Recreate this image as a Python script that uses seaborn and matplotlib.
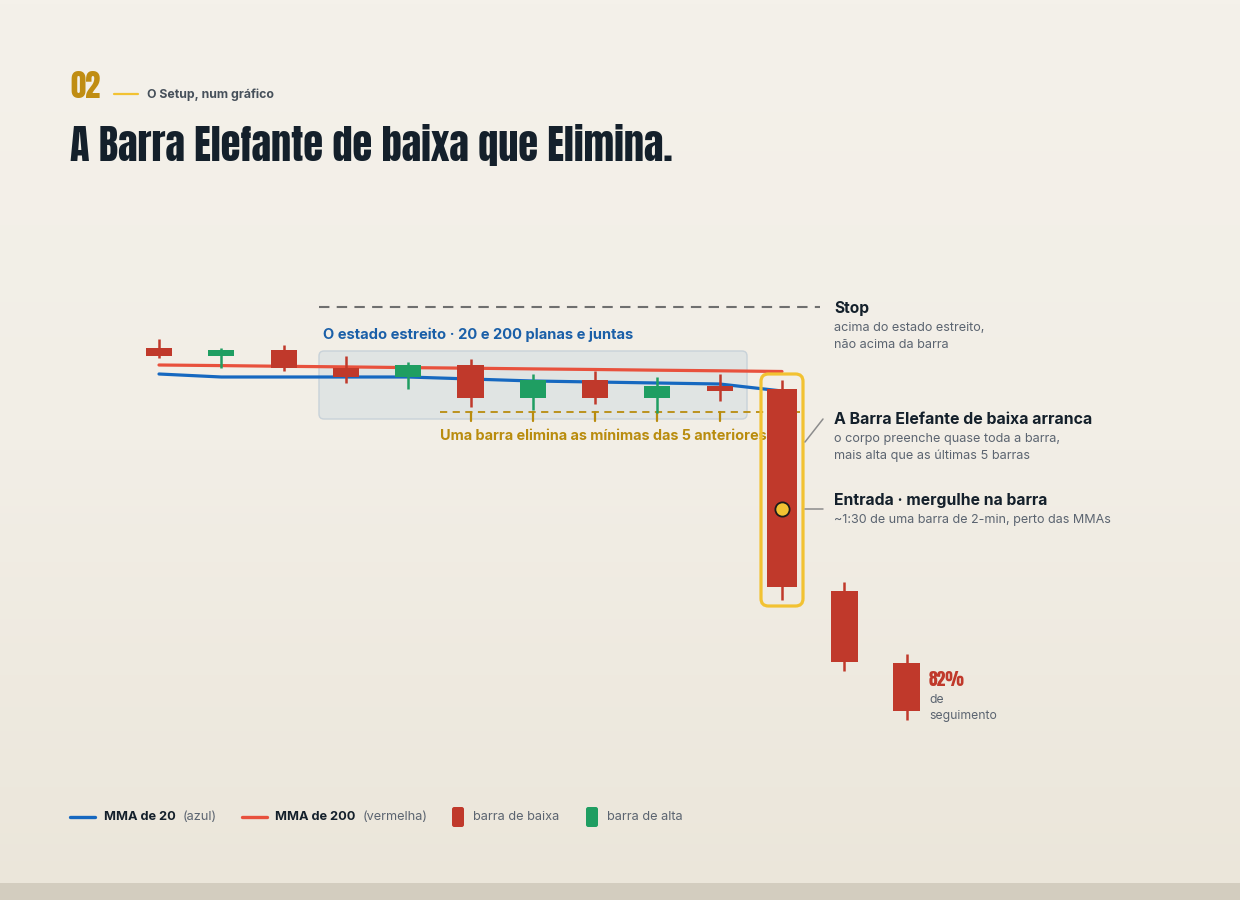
import numpy as np
import pandas as pd
import matplotlib
matplotlib.use("Agg")
import matplotlib.pyplot as plt
from matplotlib.patches import FancyBboxPatch, Rectangle
import seaborn as sns

# ── data: the candles (price units) ──────────────────────────
idx = list(range(13))
opens  = [145.2, 144.4, 145.0, 143.2, 142.3, 143.5, 140.2, 142.0, 140.2, 141.4, 141.1, 120.9, 113.7]
closes = [144.4, 145.0, 143.2, 142.3, 143.5, 140.2, 142.0, 140.2, 141.4, 140.9, 121.3, 113.8, 108.9]
highs  = [146.1, 145.2, 145.5, 144.4, 143.8, 144.1, 142.6, 142.9, 142.3, 142.6, 142.0, 121.8, 114.6]
lows   = [144.2, 143.2, 142.9, 141.7, 141.1, 139.3, 139.0, 139.6, 138.7, 139.9, 120.0, 112.9, 108.0]

mma_idx = list(range(11))
mma20  = [142.6, 142.3, 142.3, 142.3, 142.3, 142.1, 141.9, 141.8, 141.7, 141.6, 140.9]
mma200 = [143.5, 143.44, 143.37, 143.31, 143.24, 143.18, 143.11, 143.05, 142.98, 142.92, 142.85]

RED = "#c0392b"
GREEN = "#1f9e62"
BLUE = "#1668c0"
ORANGE = "#e8513d"
GOLD = "#b98c0e"
YELLOW = "#f2c232"
DARK = "#14202b"
GRAY = "#5b6470"

W, H = 1240, 900
sns.set_theme(style="white")
BODY = ["Inter", "DejaVu Sans"]
COND = ["Anton", "DejaVu Sans"]
plt.rcParams["font.family"] = BODY

fig = plt.figure(figsize=(W / 100, H / 100), dpi=100)
fig.patch.set_facecolor("#f3f0e9")
r = fig.canvas.get_renderer()


def fit_width(t, target):
    # scale a text so its rendered width matches the reference
    w = t.get_window_extent(r).width
    t.set_fontsize(t.get_fontsize() * target / w)


# background gradient + bottom band
bg = fig.add_axes([0, 0, 1, 1], zorder=-10)
grad = np.linspace(0, 1, 256).reshape(-1, 1)
cmap = matplotlib.colors.LinearSegmentedColormap.from_list("bg", ["#f4f1ea", "#f2eee6", "#ebe6da"])
bg.imshow(grad, aspect="auto", cmap=cmap, extent=[0, 1, 0, 1], origin="upper")
bg.add_patch(Rectangle((0, 0), 1, 17 / H, color="#d3cdbf", lw=0))
bg.set_axis_off()

# chart axes mapped to pixels: x -> candle index, y -> price
ax = fig.add_axes([0, 0, 1, 1])
ax.set_facecolor("none")
X0, DX = 159, 62.3
ax.set_xlim(-X0 / DX, (W - X0) / DX)
ax.set_ylim(180 - H / 10, 180)
ax.set_axis_off()


def px(x):
    return (x - X0) / DX


def py(y):
    return 180 - y / 10


ASPECT = DX / 10  # keep rounded corners round in data coords

# narrow-state box
ax.add_patch(FancyBboxPatch((px(319), py(419)), px(747) - px(319), py(351) - py(419),
                            boxstyle="round,pad=0,rounding_size=0.08", mutation_aspect=ASPECT,
                            facecolor="#e0e4e3", edgecolor="#c8d2d9", lw=1.0, zorder=1))
t = ax.text(px(323), py(335), "O estado estreito · 20 e 200 planas e juntas", color="#1a5fa8",
            fontsize=10.5, fontweight="bold", va="center", ha="left", zorder=5)
fit_width(t, 311)

# stop line
ax.plot([px(319), px(820)], [py(307), py(307)], color="#6f6f6f", lw=1.5,
        dashes=(5, 3.5), zorder=2)

# gold line across the lows of the 5 previous bars
ax.plot([px(440), px(800)], [py(412), py(412)], color=GOLD, lw=1.3, dashes=(4, 3), zorder=2)
for i in range(5, 10):
    ax.plot([i, i], [py(412), py(421)], color=GOLD, lw=1.6, zorder=2)
t = ax.text(px(440), py(436), "Uma barra elimina as mínimas das 5 anteriores", color=GOLD,
            fontsize=10.5, fontweight="bold", va="center", ha="left", zorder=5)
fit_width(t, 328)

# moving averages
df_mma = pd.DataFrame({"i": mma_idx, "MMA20": mma20, "MMA200": mma200})
sns.lineplot(data=df_mma, x="i", y="MMA200", color=ORANGE, lw=2.3, ax=ax, zorder=3)
sns.lineplot(data=df_mma, x="i", y="MMA20", color=BLUE, lw=2.3, ax=ax, zorder=3)
ax.set_axis_off()

# candles
cdf = pd.DataFrame({"i": idx, "o": opens, "c": closes, "h": highs, "l": lows})
cdf["col"] = np.where(cdf["c"] >= cdf["o"], GREEN, RED)
cdf["w"] = [0.42] * 10 + [0.48, 0.43, 0.43]
ax.vlines(cdf["i"], cdf["l"], cdf["h"], colors=cdf["col"], lw=1.8, zorder=4)
ax.bar(cdf["i"], cdf["c"] - cdf["o"], bottom=cdf["o"], width=cdf["w"],
       color=cdf["col"], lw=0, zorder=4)

# elephant highlight
ax.add_patch(FancyBboxPatch((px(761), py(606)), px(803) - px(761), py(374) - py(606),
                            boxstyle="round,pad=0,rounding_size=0.12", mutation_aspect=ASPECT,
                            facecolor="none", edgecolor=YELLOW, lw=2.3, zorder=5))
ax.scatter([10], [py(509)], s=105, color=YELLOW, edgecolor="#1c1c1c", lw=1.3, zorder=6)

# connectors
ax.plot([px(805), px(823)], [py(442), py(419)], color="#8c8c8c", lw=1.1, zorder=5)
ax.plot([px(805), px(823)], [py(509), py(509)], color="#8c8c8c", lw=1.1, zorder=5)


# right annotations
def note(y, head, lines, head_w, line_w):
    h = ax.text(px(834), py(y), head, color=DARK, fontsize=11, fontweight="bold", va="center")
    fit_width(h, head_w)
    for k, ln in enumerate(lines):
        s = ax.text(px(834), py(y + 20 + 17 * k), ln, color=GRAY, fontsize=9.5, va="center")
        if k == 0:
            fit_width(s, line_w)
            fs = s.get_fontsize()
        else:
            s.set_fontsize(fs)


note(308, "Stop", ["acima do estado estreito,", "não acima da barra"], 35, 151)
note(419, "A Barra Elefante de baixa arranca",
     ["o corpo preenche quase toda a barra,", "mais alta que as últimas 5 barras"], 259, 226)
note(500, "Entrada · mergulhe na barra", ["~1:30 de uma barra de 2-min, perto das MMAs"], 214, 277)

t = ax.text(px(929), py(680), "82%", color=RED, fontsize=15, family=COND, va="center")
fit_width(t, 36)
t = ax.text(px(929), py(716), "seguimento", color=GRAY, fontsize=9, va="center")
fit_width(t, 68)
ax.text(px(929), py(700), "de", color=GRAY, fontsize=t.get_fontsize(), va="center")


# header
def fx(x):
    return x / W


def fy(y):
    return 1 - y / H


t = fig.text(fx(70), fy(87), "02", color="#c08d12", fontsize=25, family=COND, va="center")
fit_width(t, 30)
fig.add_artist(plt.Line2D([fx(114), fx(138)], [fy(94), fy(94)], color=YELLOW, lw=1.6))
t = fig.text(fx(147), fy(95), "O Setup, num gráfico", color="#46505a", fontsize=9,
             fontweight="bold", va="center")
fit_width(t, 127)
title = fig.text(fx(70), fy(145), "A Barra Elefante de baixa que Elimina.", color=DARK,
                 fontsize=34, family=COND, va="center")
fit_width(title, 605)

# legend
LY = fy(817)
fig.add_artist(plt.Line2D([fx(70), fx(95)], [LY, LY], color=BLUE, lw=2.4))
t = fig.text(fx(104), LY, "MMA de 20", color=DARK, fontsize=9.5, fontweight="bold", va="center")
fit_width(t, 72)
lfs = t.get_fontsize()
fig.text(fx(183), LY, "(azul)", color=GRAY, fontsize=lfs, va="center")
fig.add_artist(plt.Line2D([fx(242), fx(267)], [LY, LY], color=ORANGE, lw=2.4))
fig.text(fx(275), LY, "MMA de 200", color=DARK, fontsize=lfs, fontweight="bold", va="center")
fig.text(fx(363), LY, "(vermelha)", color=GRAY, fontsize=lfs, va="center")
for x0, col, lab in [(452, RED, "barra de baixa"), (586, GREEN, "barra de alta")]:
    fig.add_artist(FancyBboxPatch((fx(x0), fy(827)), fx(12), 20 / H,
                                  boxstyle="round,pad=0,rounding_size=0.0018",
                                  mutation_aspect=W / H, color=col, lw=0,
                                  transform=fig.transFigure))
    fig.text(fx(x0 + 21), LY, lab, color=GRAY, fontsize=lfs, va="center")

fig.savefig("out.png", dpi=100, facecolor=fig.get_facecolor())
